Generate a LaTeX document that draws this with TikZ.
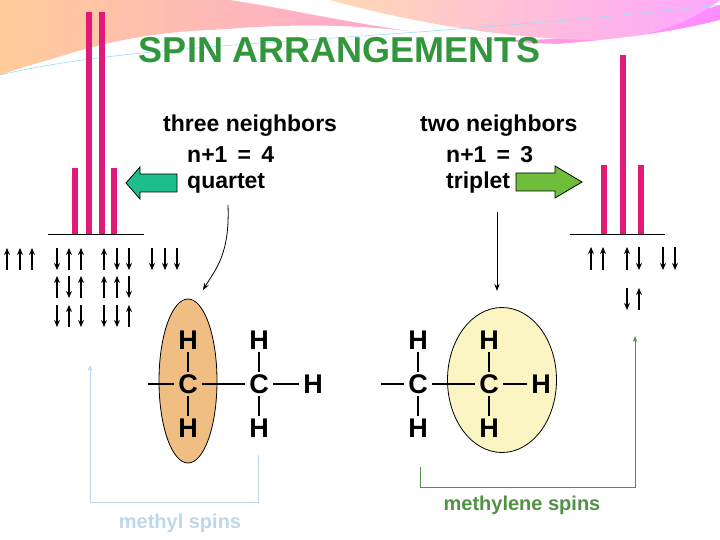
\documentclass[tikz,border=0pt]{standalone}
\usepackage{fontspec}
\setmainfont{Liberation Sans}
\usetikzlibrary{arrows.meta,shapes.geometric}
\definecolor{peak}{RGB}{225,25,120}
\definecolor{ttl}{RGB}{50,150,60}
\definecolor{teal}{RGB}{30,190,140}
\definecolor{lgreen}{RGB}{110,190,60}
\definecolor{mspin}{RGB}{190,215,235}
\definecolor{mlspin}{RGB}{80,145,70}
\definecolor{orng}{RGB}{240,190,130}
\definecolor{yel}{RGB}{250,245,195}
\tikzset{
 bar/.style={fill=peak,draw=none},
 spin/.style={line width=1.8pt,-{Stealth[length=7pt,width=6pt]}},
 lbl/.style={font=\bfseries\fontsize{23}{28}\selectfont,anchor=west,inner sep=0pt},
 atom/.style={font=\bfseries\fontsize{27}{28}\selectfont,inner sep=2pt},
 bond/.style={line width=1.3pt},
 hb/.style={line width=1.3pt,shorten <=14pt,shorten >=14pt},
 vb/.style={line width=1.3pt,shorten <=12pt,shorten >=12pt},
}
\begin{document}
\begin{tikzpicture}[x=1pt,y=-1pt]
\useasboundingbox (0,0) rectangle (720,540);
\fill[white] (0,0) rectangle (720,540);
% background decoration
\shade[left color=orange!40,right color=magenta!45] (0,0) -- (720,0) -- (720,20) .. controls (600,60) and (500,40) .. (400,30) .. controls (250,15) and (100,40) .. (0,75) -- cycle;
\fill[white] (230,0) .. controls (300,10) and (420,40) .. (520,40) .. controls (600,40) and (680,15) .. (720,5) -- (720,0) -- cycle;
\shade[left color=orange!30,right color=magenta!35] (330,0) .. controls (420,25) and (520,40) .. (600,40) .. controls (660,38) and (700,15) .. (720,0) -- cycle;
\fill[white] (0,80) .. controls (100,35) and (200,20) .. (330,35) .. controls (420,45) and (500,50) .. (580,42) .. controls (660,35) and (700,25) .. (720,20) -- (720,540) -- (0,540) -- cycle;
\draw[cyan!40,line width=0.6pt] (0,75) .. controls (150,40) and (350,45) .. (720,5);
% title
\node[font=\bfseries\fontsize{36}{40}\selectfont,text=ttl] (title) at (340,50) {SPIN ARRANGEMENTS};
% peaks left
\fill[bar] (72,168) rectangle (78,234);
\fill[bar] (86,12) rectangle (92,234);
\fill[bar] (99,12) rectangle (105,234);
\fill[bar] (111,168) rectangle (117,234);
\coordinate (bl1) at (48,234); \coordinate (bl2) at (144,234);
\draw[line width=0.7pt] (bl1) -- (bl2);
% peaks right
\fill[bar] (601,165) rectangle (607,234);
\fill[bar] (620,55) rectangle (626,234);
\fill[bar] (638,165) rectangle (644,234);
\coordinate (br1) at (570,234); \coordinate (br2) at (665,234);
\draw[line width=0.7pt] (br1) -- (br2);
% labels
\node[lbl] (t1) at (163,126) {three neighbors};
\node[lbl] (t2) at (187,155) {n+1 \,=\, 4};
\node[lbl] (t3) at (187,183) {quartet};
\node[lbl] (u1) at (420,126) {two neighbors};
\node[lbl] (u2) at (446,155) {n+1 \,=\, 3};
\node[lbl] (u3) at (446,183) {triplet};
% fat arrows
\filldraw[fill=teal,line width=0.8pt] (126,183) -- (140,167) -- (140,174) -- (177,174) -- (177,192) -- (140,192) -- (140,199) -- cycle;
\filldraw[fill=lgreen,line width=0.8pt] (582,182) -- (555,166) -- (555,173) -- (516,173) -- (516,191) -- (555,191) -- (555,198) -- cycle;
% spins left
\foreach \x/\d in {7/u,20/u,32/u, 57/d,69/u,81/u, 104/u,117/d,129/d, 152/d,165/d,177/d}{
  \if\d u \draw[spin] (\x,270) -- (\x,248); \else \draw[spin] (\x,248) -- (\x,270); \fi }
\foreach \x/\d in {57/u,69/d,81/u, 104/u,117/u,129/d}{
  \if\d u \draw[spin] (\x,298) -- (\x,276); \else \draw[spin] (\x,276) -- (\x,298); \fi }
\foreach \x/\d in {57/d,69/u,81/d, 104/d,117/d,129/u}{
  \if\d u \draw[spin] (\x,327) -- (\x,305); \else \draw[spin] (\x,305) -- (\x,327); \fi }
% spins right
\foreach \x/\d in {591/u,603/u,627/u,639/d,663/d,675/d}{
  \if\d u \draw[spin] (\x,270) -- (\x,247); \else \draw[spin] (\x,247) -- (\x,270); \fi }
\draw[spin] (627,288) -- (627,310);
\draw[spin] (639,310) -- (639,288);
% ellipses
\node[ellipse,draw,fill=orng,line width=0.8pt,minimum width=58pt,minimum height=164pt] (e1) at (188,381) {};
\node[ellipse,draw,fill=yel,line width=0.8pt,minimum width=109pt,minimum height=145pt] (e2) at (502,380) {};
% molecule left
\node[atom] (h1) at (188,340) {H}; \node[atom] (h2) at (259,340) {H};
\node[atom] (c1) at (188,384) {C}; \node[atom] (c2) at (259,384) {C};
\node[atom] (h3) at (188,428) {H}; \node[atom] (h4) at (259,428) {H};
\node[atom] (h5) at (313,384) {H};
\coordinate (lb) at (148,384);
\draw[bond,shorten >=14pt] (lb) -- (c1.center);
\draw[hb] (c1.center) -- (c2.center); \draw[hb] (c2.center) -- (h5.center);
\draw[vb] (h1.center) -- (c1.center); \draw[vb] (c1.center) -- (h3.center); \draw[vb] (h2.center) -- (c2.center); \draw[vb] (c2.center) -- (h4.center);
% molecule right
\node[atom] (k1) at (418,340) {H}; \node[atom] (k2) at (489,340) {H};
\node[atom] (d1) at (418,384) {C}; \node[atom] (d2) at (489,384) {C};
\node[atom] (k3) at (418,428) {H}; \node[atom] (k4) at (489,428) {H};
\node[atom] (k5) at (541,384) {H};
\coordinate (rb) at (381,384);
\draw[bond,shorten >=14pt] (rb) -- (d1.center);
\draw[hb] (d1.center) -- (d2.center); \draw[hb] (d2.center) -- (k5.center);
\draw[vb] (k1.center) -- (d1.center); \draw[vb] (d1.center) -- (k3.center); \draw[vb] (k2.center) -- (d2.center); \draw[vb] (d2.center) -- (k4.center);
% pointer arrows
\coordinate (q1) at (228,205); \coordinate (q2) at (203,290);
\draw[line width=0.8pt,-{Stealth[length=7pt]}] (q1) .. controls (230,255) and (215,270) .. (q2);
\coordinate (p1) at (497,212); \coordinate (p2) at (497,291);
\draw[line width=0.8pt,-{Stealth[length=7pt]}] (p1) -- (p2);
% methyl spins bracket
\coordinate (m1) at (258,455); \coordinate (m2) at (258,502); \coordinate (m3) at (90,502); \coordinate (m4) at (90,365);
\draw[mspin,line width=0.8pt,-{Stealth[length=6pt]}] (m1) -- (m2) -- (m3) -- (m4);
\node[font=\bfseries\fontsize{20}{22}\selectfont,text=mspin] (ms) at (180,523) {methyl spins};
% methylene spins bracket
\coordinate (n1) at (420,467); \coordinate (n2) at (420,487); \coordinate (n3) at (635,487); \coordinate (n4) at (635,336);
\draw[mlspin,line width=0.8pt,-{Stealth[length=6pt]}] (n1) -- (n2) -- (n3) -- (n4);
\node[font=\bfseries\fontsize{20}{22}\selectfont,text=mlspin] (mls) at (522,505) {methylene spins};
\end{tikzpicture}
\end{document}
